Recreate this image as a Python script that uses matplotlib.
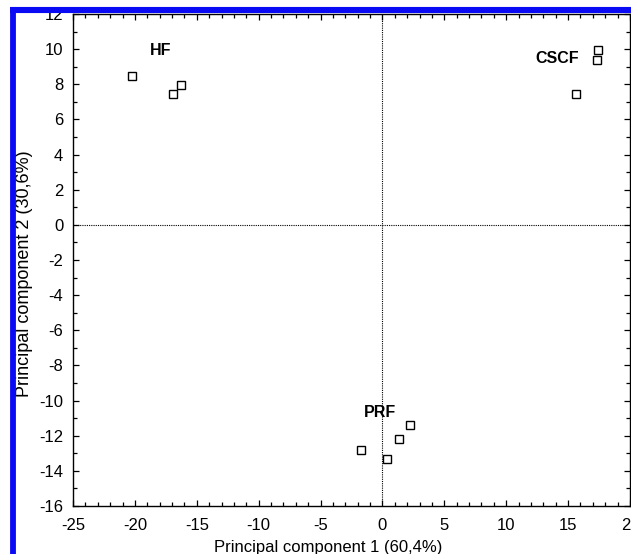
import matplotlib
matplotlib.use("Agg")
import matplotlib.pyplot as plt
from matplotlib.lines import Line2D
from matplotlib.ticker import MultipleLocator

plt.rcParams['font.family'] = ['Liberation Sans', 'DejaVu Sans']
plt.rcParams['axes.unicode_minus'] = False

# PCA scores per extraction group
hf_pc1 = [-20.2, -16.9, -16.3]
hf_pc2 = [8.5, 7.45, 7.95]
cscf_pc1 = [17.4, 17.3, 15.6]
cscf_pc2 = [9.95, 9.4, 7.45]
prf_pc1 = [2.2, 1.3, -1.7, 0.4]
prf_pc2 = [-11.4, -12.2, -12.8, -13.3]

groups = ["HF", "CSCF", "PRF"]
label_pos = [(-17.9, 9.67), (14.1, 9.22), (-0.2, -10.93)]

x_label = "Principal component 1 (60,4%)"
y_label = "Principal component 2 (30,6%)"

W, H = 631, 554
fig = plt.figure(figsize=(W / 100, H / 100), dpi=100)
ax = fig.add_axes([73 / W, 1 - 506 / H, (630 - 73) / W, (506 - 14) / H])

ax.axvline(0, color="black", lw=0.8, ls=(0, (1, 1)), zorder=1)
ax.axhline(0, color="black", lw=0.8, ls=(0, (1, 1)), zorder=1)

for xs, ys in [(hf_pc1, hf_pc2), (cscf_pc1, cscf_pc2), (prf_pc1, prf_pc2)]:
    ax.plot(xs, ys, ls="none", marker="s", ms=6.2, mfc="white",
            mec="black", mew=1.0, zorder=3)

for name, (lx, ly) in zip(groups, label_pos):
    ax.text(lx, ly, name, ha="center", va="baseline", fontsize=11.5,
            fontweight="bold", zorder=4)

ax.set_xlim(-25, 20)
ax.set_ylim(-16, 12)
ax.xaxis.set_major_locator(MultipleLocator(5))
ax.xaxis.set_minor_locator(MultipleLocator(1))
ax.yaxis.set_major_locator(MultipleLocator(2))
ax.yaxis.set_minor_locator(MultipleLocator(1))
ax.tick_params(which="both", direction="in", top=True, right=True,
               labelsize=12, width=0.9, color="black")
ax.tick_params(axis="x", which="major", pad=9)
ax.tick_params(axis="y", which="major", pad=7)
ax.tick_params(which="major", length=4)
ax.tick_params(which="minor", length=3)
for sp in ax.spines.values():
    sp.set_linewidth(1.0)

fig.text(328 / W, 1 - 552 / H, x_label, ha="center", va="baseline",
         fontsize=12)
fig.text(29.5 / W, 1 - 274 / H, y_label, ha="center", va="baseline",
         fontsize=13, rotation=90, rotation_mode="anchor")

# blue frame along the top and left edges
fig.add_artist(Line2D([12.5 / W, 12.5 / W], [0, 1 - 7 / H],
                      transform=fig.transFigure, color="#0a0af5", lw=4.2,
                      solid_capstyle="butt", zorder=10))
fig.add_artist(Line2D([10 / W, 1], [1 - 10 / H, 1 - 10 / H],
                      transform=fig.transFigure, color="#0a0af5", lw=4.4,
                      solid_capstyle="butt", zorder=10))

fig.savefig("out.png", dpi=100)
